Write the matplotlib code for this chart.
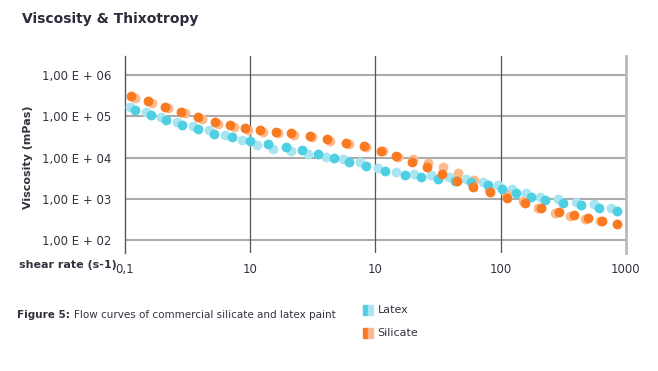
import matplotlib.pyplot as plt
from matplotlib.patches import Rectangle

# silicate paint, two runs (dark / light markers)
sil_x_a = [0.112, 0.152, 0.207, 0.28, 0.38, 0.52, 0.69, 0.91, 1.2, 1.6, 2.1, 3.0, 4.1, 5.8, 8.1,
           11.1, 14.7, 19.5, 25.7, 34, 44.8, 60, 82, 112, 156, 211, 294, 383, 499, 647, 855]
sil_y_a = [3.11e5, 2.28e5, 1.69e5, 1.28e5, 9.35e4, 7.08e4, 6.0e4, 5.25e4, 4.6e4, 4.2e4, 3.85e4,
           3.25e4, 2.75e4, 2.3e4, 1.87e4, 1.46e4, 1.09e4, 7.8e3, 5.9e3, 4.0e3, 2.75e3, 1.97e3,
           1.44e3, 1.08e3, 810, 612, 483, 415, 346, 297, 248]
sil_x_b = [0.120, 0.163, 0.222, 0.30, 0.41, 0.55, 0.74, 0.96, 1.27, 1.68, 2.22, 3.09, 4.3, 6.1, 8.4,
           11.5, 15.2, 20, 26.5, 35, 46, 61, 81, 110, 150, 200, 273, 360, 475, 628]
sil_y_b = [2.78e5, 2.07e5, 1.53e5, 1.16e5, 8.5e4, 6.4e4, 5.45e4, 4.75e4, 4.2e4, 3.85e4, 3.5e4,
           3.08e4, 2.5e4, 2.12e4, 1.76e4, 1.4e4, 1.03e4, 9.2e3, 7.5e3, 5.8e3, 4.3e3, 2.86e3,
           1.7e3, 1.29e3, 875, 612, 456, 386, 321, 292]

# latex paint, two runs
lat_x_a = [0.120, 0.161, 0.214, 0.286, 0.385, 0.514, 0.71, 1.0, 1.38, 1.92, 2.58, 3.46, 4.66, 6.2,
           8.35, 11.9, 17.1, 23.3, 31.9, 43.5, 58.5, 79, 103, 134, 175, 226, 314, 437, 608, 845]
lat_y_a = [1.40e5, 1.04e5, 7.9e4, 6.1e4, 4.8e4, 3.76e4, 3.08e4, 2.55e4, 2.15e4, 1.82e4, 1.52e4,
           1.23e4, 9.8e3, 7.9e3, 6.4e3, 4.8e3, 3.72e3, 3.33e3, 3.08e3, 2.75e3, 2.52e3, 2.17e3,
           1.73e3, 1.41e3, 1.13e3, 940, 810, 705, 610, 510]
lat_x_b = [0.110, 0.147, 0.195, 0.261, 0.351, 0.469, 0.627, 0.855, 1.13, 1.53, 2.12, 2.92, 4.06, 5.5,
           7.6, 10.5, 14.7, 20.3, 28, 38.5, 53, 72, 95, 123, 160, 207, 288, 400, 555, 767]
lat_y_b = [1.69e5, 1.28e5, 9.7e4, 7.3e4, 5.77e4, 4.6e4, 3.56e4, 2.65e4, 2.04e4, 1.6e4, 1.42e4,
           1.25e4, 1.03e4, 9.06e3, 7.8e3, 5.64e3, 4.47e3, 4.0e3, 3.72e3, 3.33e3, 3.08e3, 2.6e3,
           2.17e3, 1.71e3, 1.39e3, 1.13e3, 984, 855, 741, 612]

x_ticks = [0.1, 1, 10, 100, 1000]
x_labels = ['0,1', '10', '10', '100', '1000']
y_ticks = [1e2, 1e3, 1e4, 1e5, 1e6]
y_labels = ['1,00 E + 02', '1,00 E + 03', '1,00 E + 04', '1,00 E + 05', '1,00 E + 06']

orange_d, orange_l = '#FA7A22', '#FDBA8C'
blue_d, blue_l = '#4ECFE2', '#A9E5F1'
txt = '#333340'

plt.rcParams['font.family'] = ['DejaVu Sans']
fig = plt.figure(figsize=(6.58, 3.71), dpi=100)
ax = fig.add_axes([0.19, 0.318, 0.761, 0.531])
ax.set_xscale('log')
ax.set_yscale('log')
ax.set_xlim(0.1, 1000)
ax.set_ylim(49.3, 2.83e6)

ax.scatter(lat_x_b, lat_y_b, s=50, color=blue_l, lw=0, zorder=3)
ax.scatter(lat_x_a, lat_y_a, s=50, color=blue_d, lw=0, zorder=4)
ax.scatter(sil_x_b, sil_y_b, s=50, color=orange_l, lw=0, zorder=3)
ax.scatter(sil_x_a, sil_y_a, s=50, color=orange_d, lw=0, zorder=4)

for y in y_ticks:
    ax.axhline(y, color='#ababab', lw=1.5, zorder=1)
for x in x_ticks[1:4]:
    ax.axvline(x, color='#555555', lw=0.9, zorder=1)

for s in ['top', 'bottom']:
    ax.spines[s].set_visible(False)
ax.spines['left'].set_color('#555555')
ax.spines['left'].set_linewidth(1)
ax.spines['right'].set_color('#b9b9c6')
ax.spines['right'].set_linewidth(2)

ax.minorticks_off()
ax.set_xticks(x_ticks)
ax.set_xticklabels(x_labels)
ax.set_yticks(y_ticks)
ax.set_yticklabels(y_labels)
ax.tick_params(length=0, labelsize=8.5, colors=txt)
ax.tick_params(axis='x', pad=7)
ax.tick_params(axis='y', pad=10)

fig.text(0.043, 0.576, 'Viscosity (mPas)', rotation=90, ha='center', va='center',
         fontsize=8, fontweight='bold', color=txt)
fig.text(0.178, 0.286, 'shear rate (s-1)', ha='right', va='center',
         fontsize=8, fontweight='bold', color=txt)
fig.text(0.033, 0.948, 'Viscosity & Thixotropy', ha='left', va='center',
         fontsize=10, fontweight='bold', color='#2b2b3a')
fig.text(0.026, 0.151, 'Figure 5:', ha='left', va='center',
         fontsize=7.5, fontweight='bold', color=txt)
fig.text(0.112, 0.151, 'Flow curves of commercial silicate and latex paint', ha='left',
         va='center', fontsize=7.5, color=txt)

# legend swatches
for yy, c1, c2, lab in [(0.164, blue_d, blue_l, 'Latex'), (0.102, orange_d, orange_l, 'Silicate')]:
    fig.patches.append(Rectangle((0.551, yy - 0.0135), 0.0076, 0.027, transform=fig.transFigure,
                                 color=c1, figure=fig))
    fig.patches.append(Rectangle((0.5586, yy - 0.0135), 0.0076, 0.027, transform=fig.transFigure,
                                 color=c2, figure=fig))
    fig.text(0.574, yy, lab, ha='left', va='center', fontsize=8, color=txt)

fig.savefig('out.png', dpi=100)
